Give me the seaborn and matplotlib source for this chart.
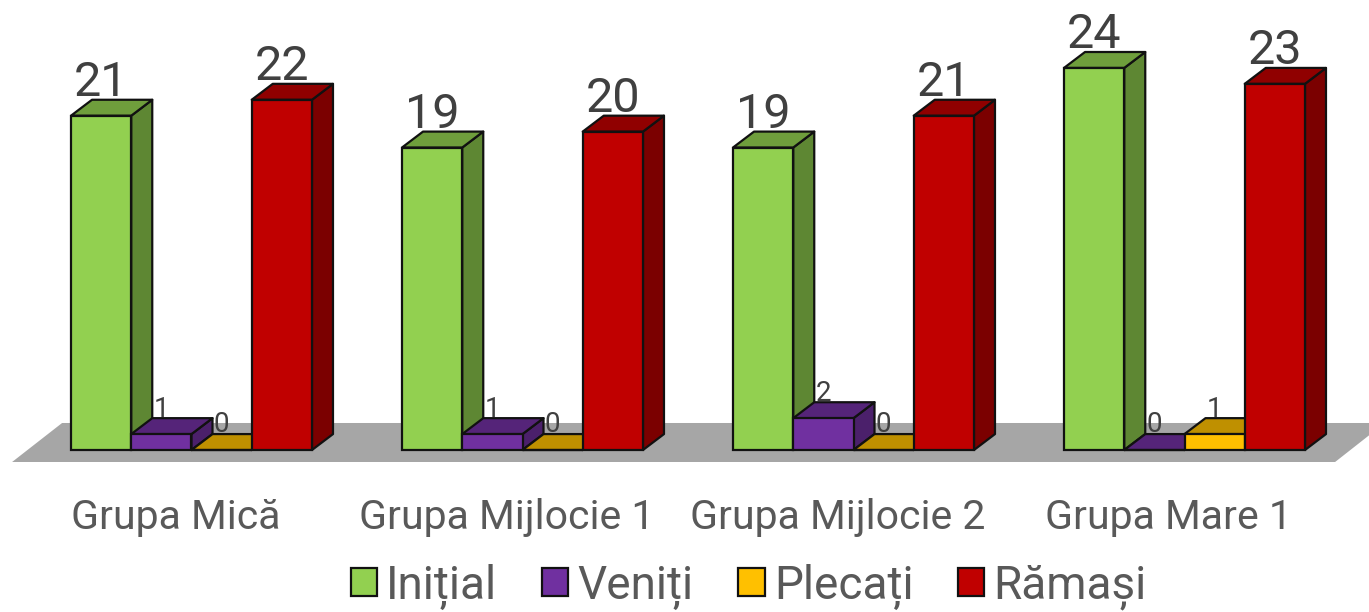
import pandas as pd
import matplotlib.pyplot as plt
import seaborn as sns
from matplotlib.patches import Polygon
from matplotlib.transforms import ScaledTranslation

grupe = ['Grupa Mică', 'Grupa Mijlocie 1', 'Grupa Mijlocie 2', 'Grupa Mare 1']
initial = [21, 19, 19, 24]
veniti = [1, 1, 2, 0]
plecati = [0, 0, 0, 1]
ramasi = [22, 20, 21, 23]

serii = ['Inițial', 'Veniți', 'Plecați', 'Rămași']
culori = ['#92D050', '#7030A0', '#FFC000', '#C00000']
culori_sus = ['#6F9E3C', '#552479', '#BF9000', '#900000']
culori_lat = ['#5E8733', '#4B206B', '#A67D00', '#7B0000']

df = pd.DataFrame({'grupa': grupe, 'Inițial': initial, 'Veniți': veniti, 'Plecați': plecati, 'Rămași': ramasi})
df = df.melt(id_vars='grupa', value_vars=serii, var_name='serie', value_name='copii')

sns.set_theme(style='white')
plt.rcParams['font.family'] = ['Roboto', 'DejaVu Sans']

fig = plt.figure(figsize=(13.69, 6.12), dpi=100)
ax = fig.add_axes([0, 150 / 612, 1, 462 / 612])

sns.barplot(data=df, x='grupa', y='copii', hue='serie', hue_order=serii, palette=culori,
            width=0.728, saturation=1, edgecolor='#111111', linewidth=1.6, ax=ax)

# adancimea falsa 3D: 21px pe orizontala, 16px pe verticala
dx = 21 / 331
dy = 1.0

# podeaua gri
ax.add_patch(Polygon([(-0.542, -0.754), (3.455, -0.754), (3.605, 1.696), (-0.391, 1.696)],
                     facecolor='#A6A6A6', edgecolor='none', zorder=1))

for i, cont in enumerate(ax.containers):
    for bar in cont.patches:
        x0 = bar.get_x()
        x1 = x0 + bar.get_width()
        h = bar.get_height()
        z = 3 + i
        bar.set_zorder(z + 0.2)
        ax.add_patch(Polygon([(x1, 0), (x1 + dx, dy), (x1 + dx, h + dy), (x1, h)],
                             facecolor=culori_lat[i], edgecolor='#111111', linewidth=1.6, joinstyle='round', zorder=z))
        ax.add_patch(Polygon([(x0, h), (x0 + dx, h + dy), (x1 + dx, h + dy), (x1, h)],
                             facecolor=culori_sus[i], edgecolor='#111111', linewidth=1.6, joinstyle='round', zorder=z + 0.1))
        mare = h >= 10
        ax.text((x0 + x1) / 2, h + dy + (0.25 if mare else 0.1), str(int(h)), ha='center', va='baseline',
                fontsize=35 if mare else 20, color='#404040', zorder=20)

ax.set_xlim(-191.5 / 331, (1369 - 191.5) / 331)
ax.set_ylim(-0.754, 450 / 15.92)
ax.set_xlabel('')
ax.set_ylabel('')
ax.set_yticks([])
ax.tick_params(axis='x', length=0, pad=26, labelsize=29.5, labelcolor='#595959')
# etichetele sunt deplasate spre stanga fata de centrul grupului
for lab in ax.get_xticklabels():
    lab.set_transform(lab.get_transform() + ScaledTranslation(-16 / 100, 0, fig.dpi_scale_trans))
sns.despine(ax=ax, left=True, bottom=True, top=True, right=True)
ax.patch.set_alpha(0)

sns.move_legend(ax, 'lower center', bbox_to_anchor=(0.547, -0.41), ncol=4, frameon=False, title=None,
                fontsize=33, labelcolor='#595959', handlelength=0.57, handleheight=0.57,
                handletextpad=0.2, columnspacing=0.98)

fig.savefig('out.png', dpi=100)
